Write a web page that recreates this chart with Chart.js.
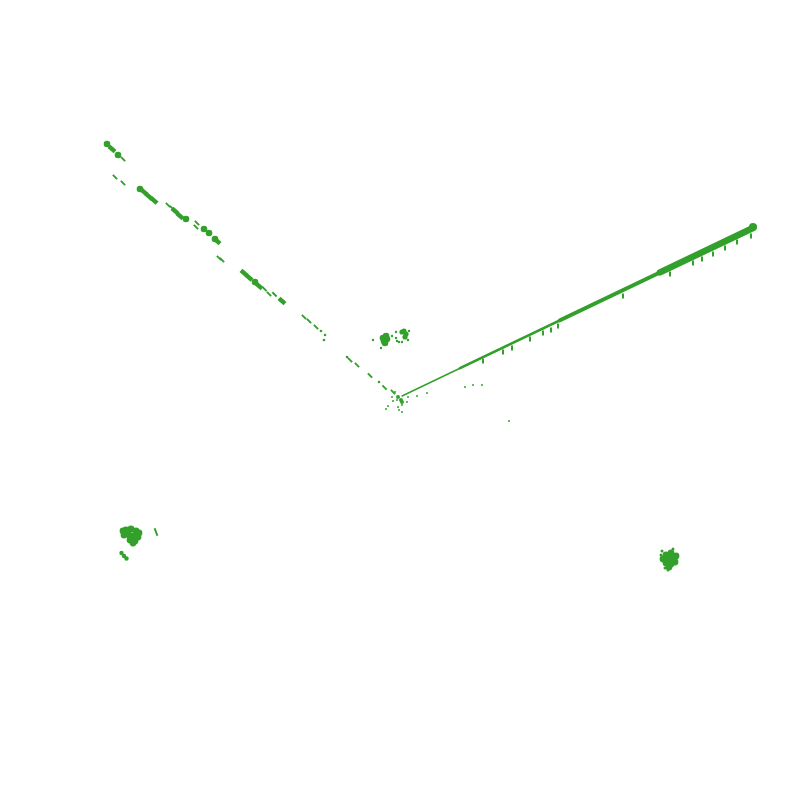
<!DOCTYPE html>
<html>
<head>
<meta charset="utf-8">
<script src="https://cdn.jsdelivr.net/npm/chart.js@4"></script>
<style>
  body { margin: 0; background: #fff; }
  #wrap { width: 800px; height: 800px; }
</style>
</head>
<body>
<div id="wrap"><canvas id="embedChart" width="800" height="800"></canvas></div>
<script>
// values, x/y are the two embedding components
const leftBlobs = [[-293,256],[-282,245],[-260,211],[-214,181],[-196,171],[-191,167],[-185,161],[-145,118]];
const leftThickDashes = [[-288,251],[-256,208],[-251,203.5],[-246,199.5],[-225,189],[-220,184],[-183,159],
    [-156,127],[-151,122.5],[-141,114],[-118,99]];
const leftThinDashes = [[-277,241],[-285,223],[-277,217],[-232,195],[-228,192],[-203,177],[-204,173],
    [-181,142],[-178,140],[-135.5,111],[-131,106],[-125.5,105.7],[-96,83],[-91,79],[-84,73],
    [-50,40],[-43,35],[-30,24.5],[-15.5,12.5],[-7,8]];
const leftDots = [[-79,69],[-75,65],[-76,60],[-21,18],[-53,43]];
const centerDots = [[-8,3],[-7,-1],[-3,0],[-14,-9],[-12,-6],[-2,-7],[-1,-10],[2,-12],[2,-5],[7,-2],
    [8,3],[17,4],[27,7],[65,13],[73,15],[82,15],[109,-21],[-5,8]];
const centerCore = [[-2,3],[1,0],[2,-2]];
const topBlobA = [[-17,62],[-13,61],[-15,57],[-14,64],[-16,59]];
const topBlobB = [[4,69],[6,66],[5,63],[2,68]];
const topDots = [[-4,62],[-3,59],[2,58],[8,60],[-27,60],[-19,52],[-8,64],[-4,68],[9,69],[-1,58]];
const leftClusterBlob = [[-274,-130],[-269,-129],[-264,-131],[-276,-135],[-271,-135],[-266,-136],
    [-262,-137],[-270,-140],[-265,-141],[-277,-131],[-267,-143],[-261,-133]];
const leftClusterTail = [[-278.5,-153],[-276,-156],[-273.5,-158.5]];
const leftClusterDash = [[-244,-132]];
const rightClusterBlob = [[266,-155],[271,-153],[268,-159],[273,-159],[266,-163],[271,-164],[275,-162],
    [263,-159],[276,-156],[269,-167]];
const rightClusterDots = [[268,-170],[262,-151],[273,-149],[261,-155],[265,-168]];
const armThin = [[2,4],[355,173]];
const armMid = [[60,31.8],[355,173]];
const armThick = [[160,79.7],[355,173]];
const armEnd = [[260,127.6],[353,172]];
const armTip = [[353,173]];
const armTicks = [[83,39],[103,48],[112,52],[130,61],[143,67],[151,70],[158,74],[223,104],[270,126],
    [293,137],[302,141],[313,146],[325,152],[337,158],[351,164]];

const green = '#33a02c';
const pts = a => a.map(p => ({ x: p[0], y: p[1] }));

const dots = (data, r) => ({ data: pts(data), pointRadius: r, pointStyle: 'circle',
    backgroundColor: green, borderWidth: 0 });
const dashes = (data, r, w, rot) => ({ data: pts(data), pointRadius: r, pointStyle: 'line',
    rotation: rot, borderColor: green, borderWidth: w });
const band = (data, w) => ({ data: pts(data), showLine: true, pointRadius: 0, borderColor: green,
    borderWidth: w, borderCapStyle: 'round' });

new Chart(document.getElementById('embedChart').getContext('2d'), {
    type: 'scatter',
    data: {
        datasets: [
            band(armThin, 1.4),
            band(armMid, 2.6),
            band(armThick, 4),
            band(armEnd, 6.5),
            dots(armTip, 4),
            dashes(armTicks, 2.4, 2, 90),
            dots(leftBlobs, 3.3),
            dashes(leftThickDashes, 4, 4.5, 41),
            dashes(leftThinDashes, 3, 2, 45),
            dots(leftDots, 1.3),
            dots(centerDots, 1),
            dots(centerCore, 2),
            dots(topBlobA, 3.3),
            dots(topBlobB, 2.6),
            dots(topDots, 1.2),
            dots(leftClusterBlob, 3.4),
            dots(leftClusterTail, 2.2),
            dashes(leftClusterDash, 4, 2, 70),
            dots(rightClusterBlob, 3.4),
            dots(rightClusterDots, 1.5)
        ]
    },
    options: {
        responsive: false,
        animation: false,
        layout: { padding: 0, autoPadding: false },
        plugins: { legend: { display: false }, tooltip: { enabled: false } },
        scales: {
            x: { type: 'linear', min: -400, max: 400, display: false },
            y: { type: 'linear', min: -400, max: 400, display: false }
        }
    }
});
</script>
</body>
</html>
